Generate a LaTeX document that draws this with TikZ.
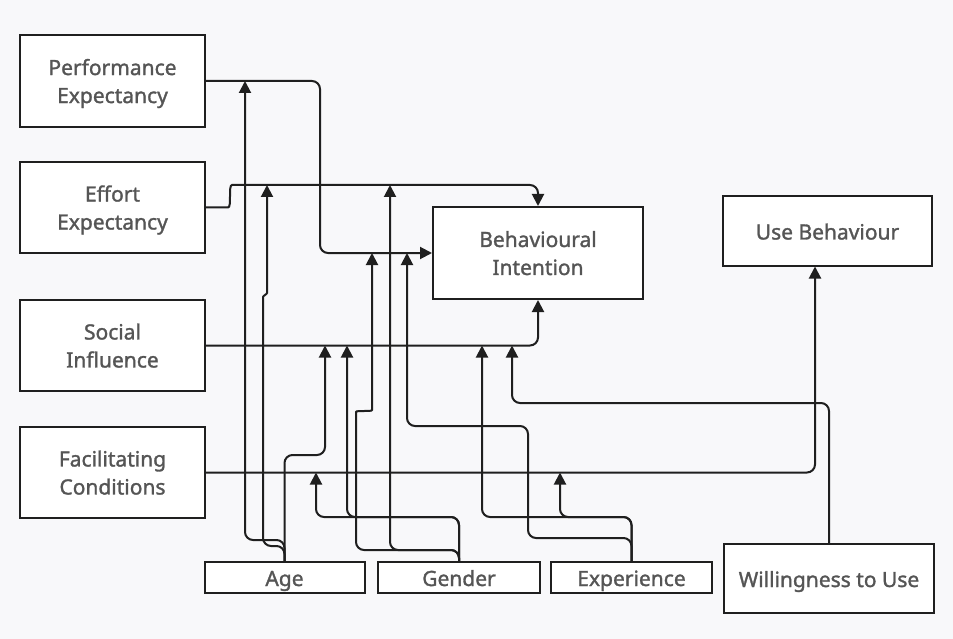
\documentclass[tikz,border=0pt]{standalone}
\usepackage{fontspec}
\setmainfont{Noto Sans}
\newfontfamily\boxfont[FakeBold=1.4]{Noto Sans}
\usetikzlibrary{arrows.meta}
\definecolor{bgc}{HTML}{F8F8FA}
\definecolor{linec}{HTML}{1F1F1F}
\definecolor{txtc}{HTML}{555555}
\begin{document}
\begin{tikzpicture}[x=1pt,y=-1pt,
  box/.style={draw=linec, line width=2pt, fill=white, text=txtc, align=center,
    font=\boxfont\fontsize{21}{28}\selectfont, inner sep=0pt},
  twoline/.style={text depth=0pt},
  oneline/.style={text height=20pt, text depth=3pt},
  conn/.style={draw=linec, line width=2pt, rounded corners=8pt},
  arr/.style={-{Triangle[length=12pt,width=12pt]}}]
\fill[bgc] (0,0) rectangle (953,639);
\useasboundingbox (0,0) rectangle (953,639);
% boxes
\node[box, twoline, minimum width=185pt, minimum height=92pt] (PE) at (112.5,81) {Performance\\Expectancy};
\node[box, twoline, minimum width=185pt, minimum height=91pt] (EE) at (112.5,207.5) {Effort\\Expectancy};
\node[box, twoline, minimum width=185pt, minimum height=91pt] (SI) at (112.5,345.5) {Social\\Influence};
\node[box, twoline, minimum width=185pt, minimum height=91pt] (FC) at (112.5,472.5) {Facilitating\\Conditions};
\node[box, twoline, minimum width=210pt, minimum height=92pt] (BI) at (538,253) {Behavioural\\Intention};
\node[box, oneline, minimum width=209pt, minimum height=69pt] (UB) at (827.5,231) {Use Behaviour};
\node[box, oneline, minimum width=160pt, minimum height=31pt] (Age) at (284.5,577.5) {Age};
\node[box, oneline, minimum width=162pt, minimum height=31pt] (Gender) at (459,577.5) {Gender};
\node[box, oneline, minimum width=161pt, minimum height=31pt] (Exp) at (631.5,577.5) {Experience};
\node[box, oneline, minimum width=210pt, minimum height=69pt] (WtU) at (829,578.5) {Willingness to Use};
% target points on connectors
\coordinate (m1) at (245,81);
\coordinate (m2) at (267,185);
\coordinate (m3) at (325,345.5);
\coordinate (m4) at (316,472.5);
\coordinate (m5) at (347,345.5);
\coordinate (m6) at (372,253);
\coordinate (m7) at (390,185);
\coordinate (m8) at (482,345.5);
\coordinate (m9) at (560,472.5);
\coordinate (m10) at (407,253);
\coordinate (m11) at (512,345.5);
% main connectors
\draw[conn,arr] (PE.east) -- (320,81) |- (BI.west);
\draw[conn,arr] (EE.east) -- (220,207.5) .. controls (232,207.5) and (228,185) .. (240,185) -| (BI.north);
\draw[conn,arr] (SI.east) -| (BI.south);
\draw[conn,arr] (FC.east) -| ([xshift=-12.5pt]UB.south);
\draw[conn,arr] (WtU.north) -- ++(0,-140) -| (m11);
% Age
\draw[conn,arr] (Age.north) -- (284.5,540) -- (245,540) -- (m1);
\draw[conn,arr] (Age.north) -- (284.5,546) -- (263,546) -- (263,305) .. controls (263,296) and (267,294) .. (267,285) -- (m2);
\draw[conn,arr] (Age.north) -- (284.5,455) -- (325,455) -- (m3);
% Gender
\draw[conn,arr] (Gender.north) -- (459,517) -- (316,517) -- (m4);
\draw[conn,arr] (Gender.north) -- (459,517) -- (347,517) -- (m5);
\draw[conn,arr] (Gender.north) -- (459,550) -- (356,550) -- (356,420) .. controls (356,410) and (372,412) .. (372,402) -- (m6);
\draw[conn,arr] (Gender.north) -- (459,550) -- (390,550) -- (m7);
% Experience
\draw[conn,arr] (Exp.north) -- (631.5,517) -- (482,517) -- (m8);
\draw[conn,arr] (Exp.north) -- (631.5,517) -- (560,517) -- (m9);
\draw[conn,arr] (Exp.north) -- (631.5,538) -- (528,538) -- (528,426) -- (407,426) -- (m10);
\end{tikzpicture}
\end{document}
